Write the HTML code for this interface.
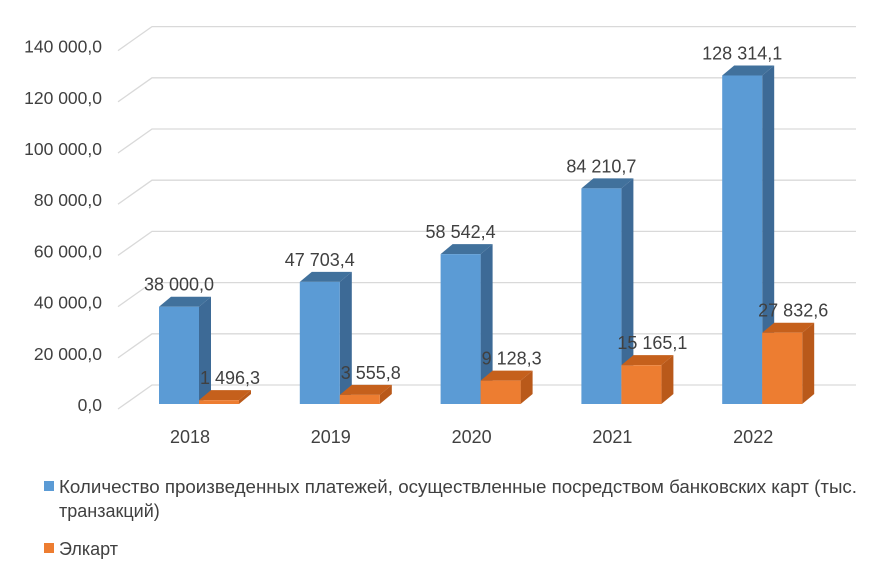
<!DOCTYPE html>
<html><head><meta charset="utf-8"><style>
body{margin:0;background:#fff;}
svg text{font-family:"Liberation Sans",sans-serif;}
</style></head><body>
<svg id="c" width="880" height="575" xmlns="http://www.w3.org/2000/svg">
<g id="grid"></g><g id="bars"></g><g id="labels"></g>
<g>
<rect x="44" y="481" width="10" height="10" fill="#5b9bd5"/>
<text x="59" y="493" font-size="18" textLength="798" lengthAdjust="spacingAndGlyphs" fill="#404040">Количество произведенных платежей, осуществленные посредством банковских карт (тыс.</text>
<text x="59" y="517" font-size="18" fill="#404040">транзакций)</text>
<rect x="44" y="543" width="10" height="10" fill="#ed7d31"/>
<text x="59" y="555" font-size="18" fill="#404040">Элкарт</text>
</g>
</svg>
<script>
const categories=["2018","2019","2020","2021","2022"];
const payments=[38000.0,47703.4,58542.4,84210.7,128314.1];
const elkart=[1496.3,3555.8,9128.3,15165.1,27832.6];
const paymentLabels=["38 000,0","47 703,4","58 542,4","84 210,7","128 314,1"];
const elkartLabels=["1 496,3","3 555,8","9 128,3","15 165,1","27 832,6"];
const yTicks=[0,20000,40000,60000,80000,100000,120000,140000];
const yTickLabels=["0,0","20 000,0","40 000,0","60 000,0","80 000,0","100 000,0","120 000,0","140 000,0"];
const NS="http://www.w3.org/2000/svg";
const base=404,k=0.00256,dx=12,dy=-10;
const y=v=>base-v*k;
const xc=i=>159+i*140.8;
function mk(p,t,a){const e=document.createElementNS(NS,t);for(const q in a)e.setAttribute(q,a[q]);p.appendChild(e);return e;}
const G=document.getElementById('grid'),B=document.getElementById('bars'),L=document.getElementById('labels');
yTicks.forEach((t,i)=>{
 const yy=y(t)+2;
 const l=mk(G,'polyline',{points:`118,${yy+3} 152,${yy-21} 856,${yy-21}`,fill:'none',stroke:'#d9d9d9','stroke-width':1.3});
 
 
 const tx=mk(G,'text',{x:102,y:yy+5,'text-anchor':'end','font-size':17.5,fill:'#404040'});
 tx.textContent=yTickLabels[i];
 
 
});
function bar(x,v,front,top,side,name){
 const yt=y(v),w=40;
 const g=mk(B,'g',{});
 
 
 mk(g,'polygon',{points:`${x+w},${base} ${x+w+dx},${base+dy} ${x+w+dx},${yt+dy} ${x+w},${yt}`,fill:side});
 mk(g,'polygon',{points:`${x},${yt} ${x+dx},${yt+dy} ${x+w+dx},${yt+dy} ${x+w},${yt}`,fill:top});
 mk(g,'rect',{x:x,y:yt,width:w,height:base-yt,fill:front});
}
categories.forEach((c,i)=>{
 const x=xc(i);
 bar(x,payments[i],'#5b9bd5','#41719c','#3d6a96','bar-payments-'+c);
 bar(x+40,elkart[i],'#ed7d31','#c5601c','#b9591a','bar-elkart-'+c);
 const t1=mk(L,'text',{x:x+20,y:y(payments[i])-16,'text-anchor':'middle','font-size':18,fill:'#404040'});
 t1.textContent=paymentLabels[i];
 
 
 const t2=mk(L,'text',{x:x+71,y:y(elkart[i])-16,'text-anchor':'middle','font-size':18,fill:'#404040'});
 t2.textContent=elkartLabels[i];
 
 
 const t3=mk(L,'text',{x:x+31,y:443,'text-anchor':'middle','font-size':18,fill:'#404040'});
 t3.textContent=c;
 
 
});
</script>
</body></html>
